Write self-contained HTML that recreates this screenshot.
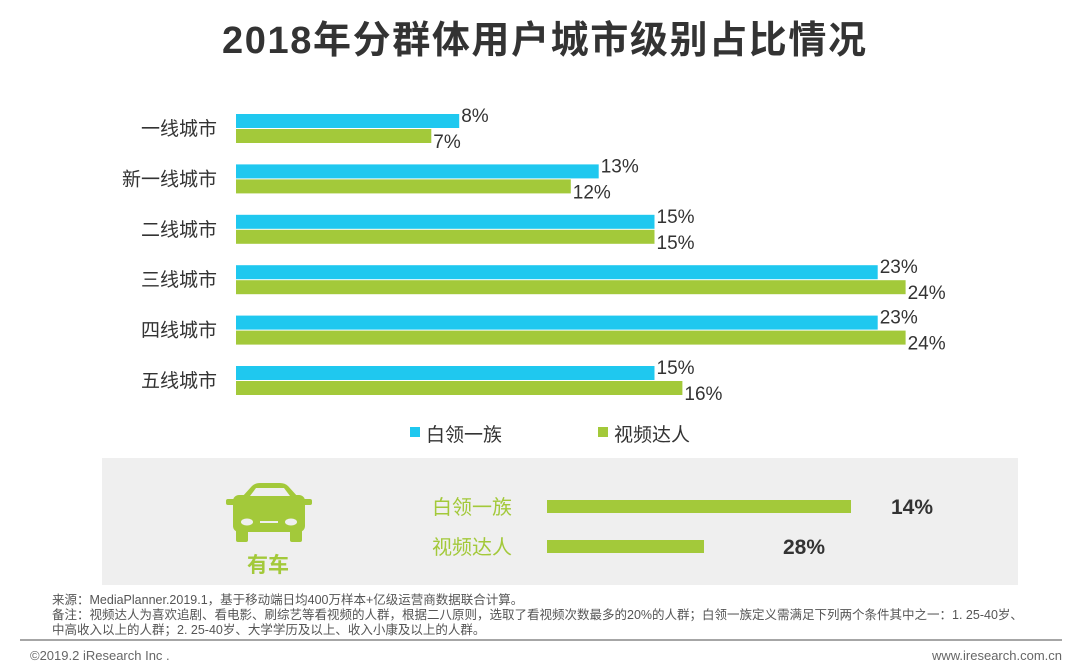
<!DOCTYPE html>
<html><head><meta charset="utf-8"><style>
body{margin:0;background:#fff;}
svg{display:block;font-family:"Liberation Sans","Noto Sans CJK SC",sans-serif;}
</style></head><body>
<svg width="1080" height="670" viewBox="0 0 1080 670">
<text x="222" y="53" textLength="644" lengthAdjust="spacing" font-size="38" font-weight="bold" fill="#333">2018年分群体用户城市级别占比情况</text>
<g id="bars"></g>
<g>
<rect x="410" y="427" width="10" height="10" fill="#1fc8ef"/>
<text x="426" y="441" font-size="19" fill="#333">白领一族</text>
<rect x="598" y="427" width="10" height="10" fill="#a3c93a"/>
<text x="614" y="441" font-size="19" fill="#333">视频达人</text>
</g>
<rect x="102" y="458" width="916" height="127" fill="#efefef"/>
<g fill="#a3c93a">
<path d="M242 497 L252 486 Q255 483 260 483 L280 483 Q285 483 288 486 L298 497 Z"/>
<rect x="226" y="499" width="10" height="6" rx="2"/>
<rect x="302" y="499" width="10" height="6" rx="2"/>
<rect x="233" y="495" width="72" height="37" rx="6"/>
<rect x="236" y="528" width="12" height="14" rx="2"/>
<rect x="290" y="528" width="12" height="14" rx="2"/>
<path d="M250 496 L256 488 L284 488 L290 496 Z" fill="#efefef"/>
<ellipse cx="247" cy="522" rx="6" ry="3.5" fill="#efefef"/>
<ellipse cx="291" cy="522" rx="6" ry="3.5" fill="#efefef"/>
<rect x="260" y="521" width="18" height="2" fill="#efefef"/>
</g>
<text x="268" y="572" text-anchor="middle" font-size="21" font-weight="bold" fill="#a3c93a">有车</text>
<g id="carbars"></g>
<text x="52" y="604" font-size="12.5" fill="#555">来源：MediaPlanner.2019.1，基于移动端日均400万样本+亿级运营商数据联合计算。</text>
<text x="52" y="619" font-size="12.5" fill="#555">备注：视频达人为喜欢追剧、看电影、刷综艺等看视频的人群，根据二八原则，选取了看视频次数最多的20%的人群；白领一族定义需满足下列两个条件其中之一：1. 25-40岁、</text>
<text x="52" y="634" font-size="12.5" fill="#555">中高收入以上的人群；2. 25-40岁、大学学历及以上、收入小康及以上的人群。</text>
<line x1="20" y1="640" x2="1062" y2="640" stroke="#888" stroke-width="1.5"/>
<text x="30" y="660" font-size="13" fill="#666">©2019.2 iResearch Inc .</text>
<text x="1062" y="660" text-anchor="end" font-size="13" fill="#666">www.iresearch.com.cn</text>
</svg>
<script>
const categories=["一线城市","新一线城市","二线城市","三线城市","四线城市","五线城市"];
const whiteCollar=[8,13,15,23,23,15];
const videoFans=[7,12,15,24,24,16];
const carLabels=["白领一族","视频达人"];
const carValues=[14,28];
const carBarUnits=[304,157];
const NS="http://www.w3.org/2000/svg";
const x0=236,pxPer=27.9,row0=128,rowStep=50.4;
const xs=v=>x0+v*pxPer;
const ys=i=>row0+i*rowStep;
function mk(t,a,p){const e=document.createElementNS(NS,t);for(const k in a)e.setAttribute(k,a[k]);p.appendChild(e);return e;}
const g=document.getElementById('bars');
categories.forEach((c,i)=>{
  const y=ys(i);
  const lab=mk('text',{x:217,y:y+7,'text-anchor':'end','font-size':19,fill:'#333'},g);
  lab.textContent=c;
  
  
  const b1=mk('rect',{x:x0,y:y-14,width:xs(whiteCollar[i])-x0,height:14,fill:'#1fc8ef'},g);
  
  
  const b2=mk('rect',{x:x0,y:y+1,width:xs(videoFans[i])-x0,height:14,fill:'#a3c93a'},g);
  
  
  const t1=mk('text',{x:xs(whiteCollar[i])+2,y:y-6,'font-size':19,fill:'#333'},g);
  t1.textContent=whiteCollar[i]+'%';
  
  
  const t2=mk('text',{x:xs(videoFans[i])+2,y:y+20,'font-size':19,fill:'#333'},g);
  t2.textContent=videoFans[i]+'%';
  
  
});
const cg=document.getElementById('carbars');
const valX=[912,804];
carLabels.forEach((c,i)=>{
  const y=507+i*40;
  const l=mk('text',{x:432,y:y+7,'font-size':20,fill:'#a3c93a'},cg);
  l.textContent=c;
  
  
  const b=mk('rect',{x:547,y:y-7,width:carBarUnits[i],height:13,fill:'#a3c93a'},cg);
  
  
  const v=mk('text',{x:valX[i],y:y+7,'text-anchor':'middle','font-size':21,'font-weight':'bold',fill:'#333'},cg);
  v.textContent=carValues[i]+'%';
  
  
});
</script>
</body></html>
